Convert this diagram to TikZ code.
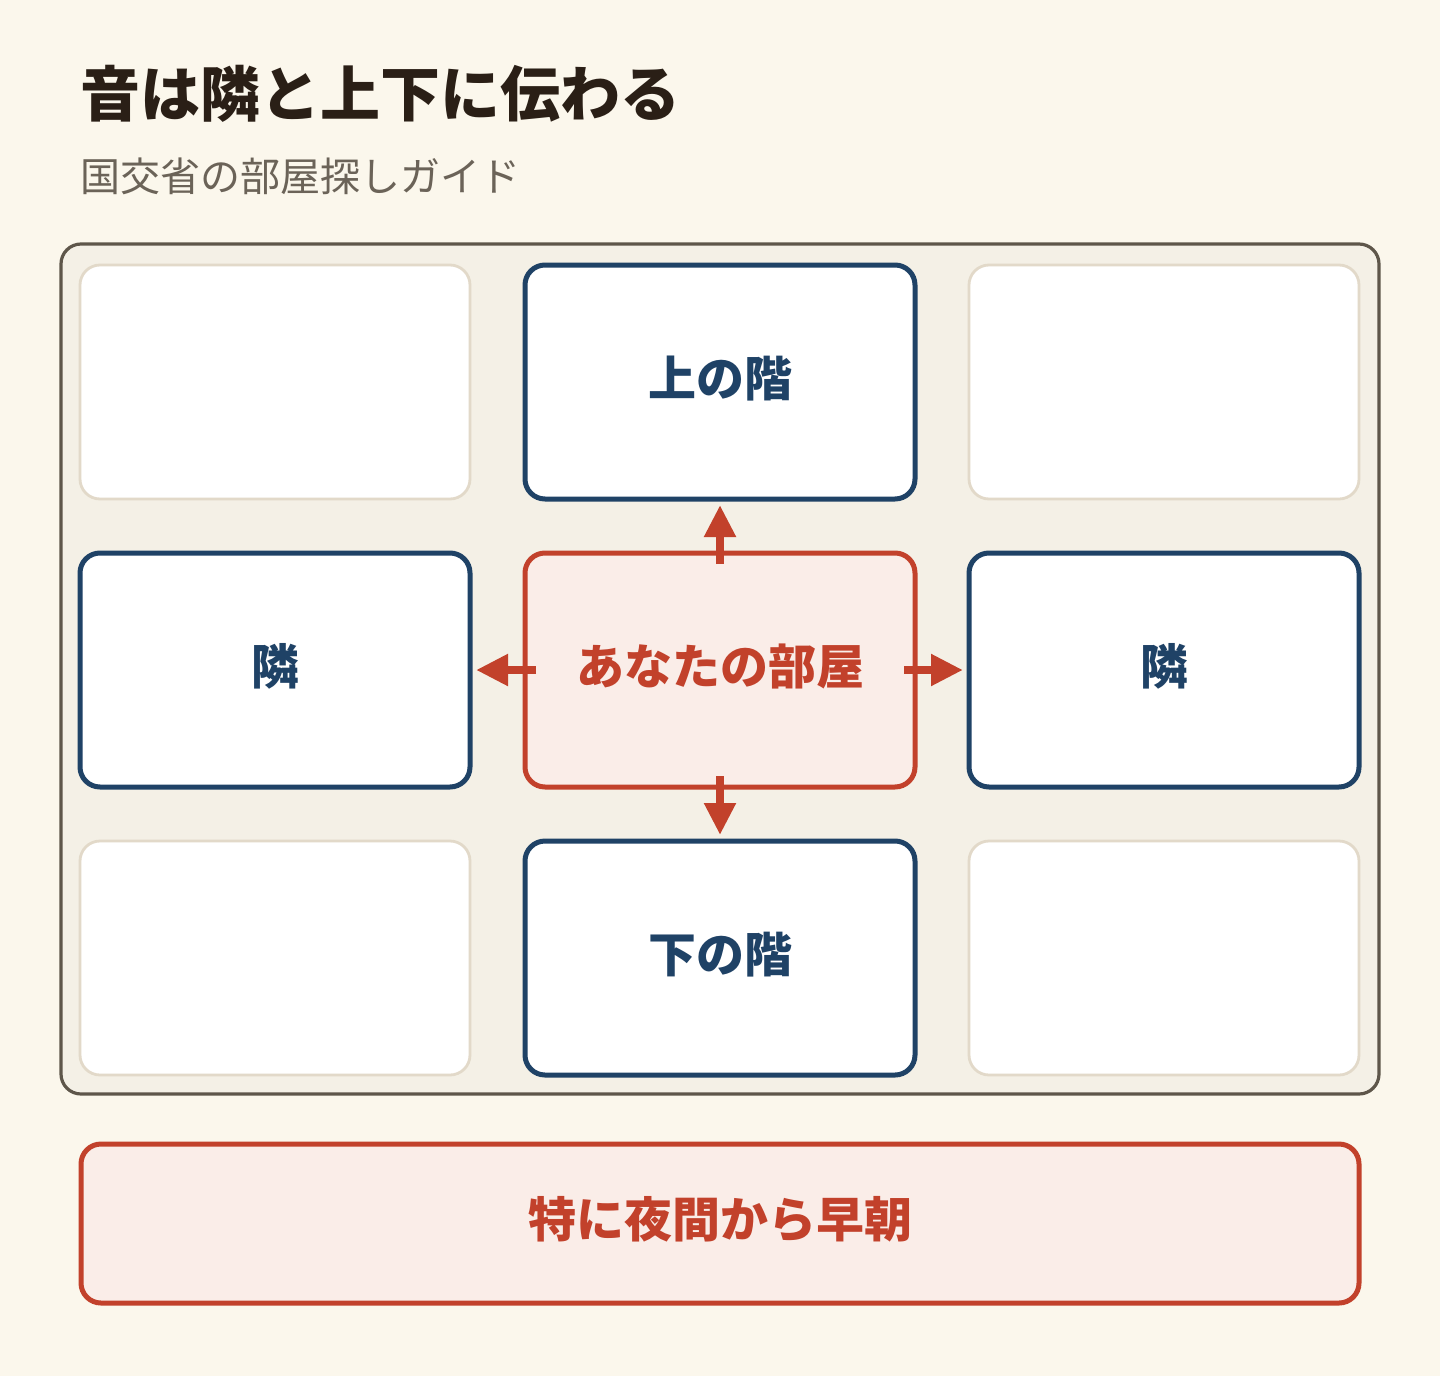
\documentclass[tikz,border=0pt]{standalone}
\usepackage{fontspec}
\setmainfont{Noto Sans CJK JP}
\usepackage{xcolor}
\usetikzlibrary{arrows.meta}

\definecolor{paper}{HTML}{FBF7EC}
\definecolor{gridfill}{HTML}{F4F0E6}
\definecolor{gridline}{HTML}{5E564A}
\definecolor{emptyline}{HTML}{E2D9C9}
\definecolor{navy}{HTML}{1F4266}
\definecolor{roomred}{HTML}{C2412B}
\definecolor{roomfill}{HTML}{FAEDE8}
\definecolor{titleink}{HTML}{2A1F16}
\definecolor{subink}{HTML}{6B6358}

\begin{document}
\begin{tikzpicture}[x = 0.5pt, y = -0.5pt,
		cell/.style = {rectangle, rounded corners = 10pt, outer sep = 0pt, minimum width = 195pt, minimum height = 117pt, fill = white, text height = 21pt, text depth = 7pt, font = \fontsize{24pt}{28pt}\selectfont\bfseries},
		emptycell/.style = {cell, draw = emptyline, line width = 1.4pt},
		nearcell/.style = {cell, draw = navy, line width = 2.5pt, text = navy},
		roomcell/.style = {cell, draw = roomred, line width = 2.5pt, fill = roomfill, text = roomred},
		sound/.style = {roomred, line width = 4pt, -{Triangle[length = 16pt, width = 15pt]}, shorten <= -5.5pt, shorten >= 3pt}]
					\def\colA{275};
					\def\colB{720};
					\def\colC{1164};
					\def\rowA{382};
					\def\rowB{670};
					\def\rowC{958};

					\fill [paper] (0,0) rectangle (1440,1376);
					\useasboundingbox (0,0) rectangle (1440,1376);

					\begin{scope}
						\node (title) [anchor = base west, text = titleink, font = \fontsize{30pt}{36pt}\selectfont\bfseries, inner sep = 0pt] at (80,116) {音は隣と上下に伝わる};
						\node (subtitle) [anchor = base west, text = subink, font = \fontsize{20pt}{24pt}\selectfont, inner sep = 0pt] at (80,191) {国交省の部屋探しガイド};
					\end{scope}

					\begin{scope}
						\draw [gridline, fill = gridfill, line width = 1.6pt, rounded corners = 10pt] (61,244) rectangle (1379,1094);
					\end{scope}

					\begin{scope}
						\foreach \x/\y/\n in {\colA/\rowA/c1, \colC/\rowA/c2, \colA/\rowC/c3, \colC/\rowC/c4}
							\node (\n) [emptycell] at (\x,\y) {};
						\node (upper) [nearcell] at (\colB,\rowA) {上の階};
						\node (lower) [nearcell] at (\colB,\rowC) {下の階};
						\node (leftnb) [nearcell] at (\colA,\rowB) {隣};
						\node (rightnb) [nearcell] at (\colC,\rowB) {隣};
						\node (room) [roomcell] at (\colB,\rowB) {あなたの部屋};
					\end{scope}

					\begin{scope}[sound]
						\draw (room.north) -- (upper.south);
						\draw (room.south) -- (lower.north);
						\draw (room.west) -- (leftnb.east);
						\draw (room.east) -- (rightnb.west);
					\end{scope}

					\begin{scope}
						\node (night) [cell, draw = roomred, line width = 2.5pt, fill = roomfill, text = roomred, minimum width = 639pt, minimum height = 79.5pt] at (720,1223.5) {特に夜間から早朝};
					\end{scope}
				\end{tikzpicture}
\end{document}
